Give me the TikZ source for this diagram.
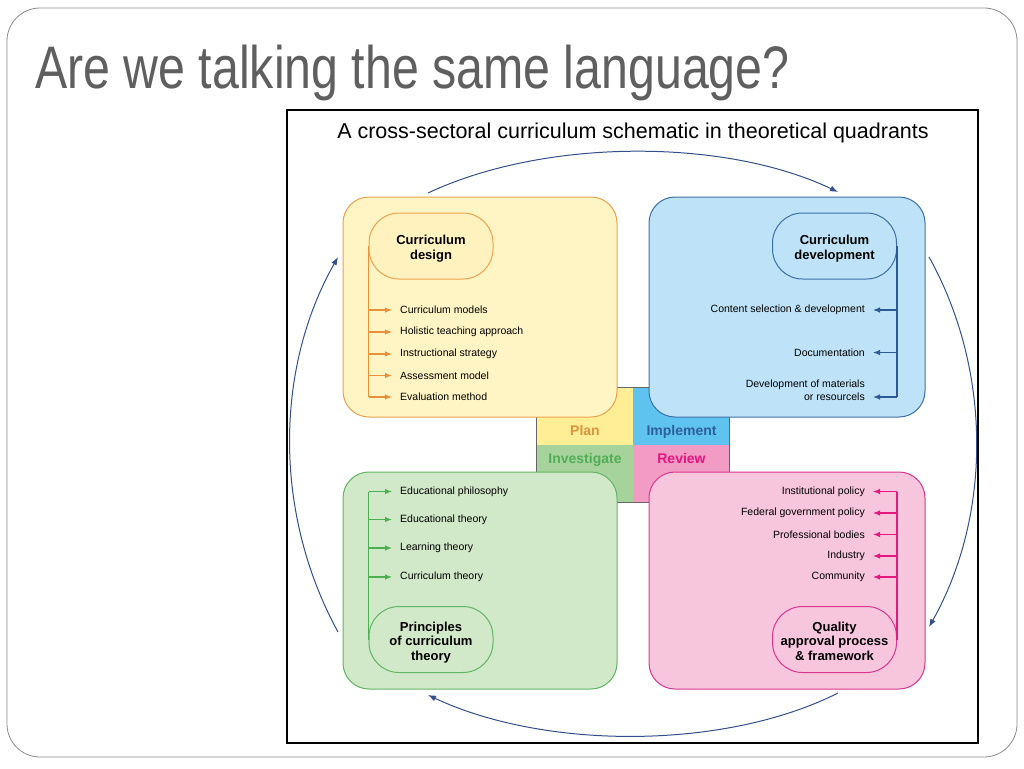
\documentclass[tikz,border=0pt]{standalone}
\usepackage{fontspec}
\usepackage{graphicx}
\setmainfont{Liberation Sans}
\usetikzlibrary{arrows.meta,fit,calc}
\newcommand\mystack[1]{\raisebox{-3.2pt}[\height][\depth]{\begin{tabular}{@{}c@{}}#1\end{tabular}}}
\definecolor{titlegray}{HTML}{5F5F5F}
\definecolor{slideline}{HTML}{8C8C8C}
\definecolor{navy}{HTML}{34508A}
\definecolor{yfill}{HTML}{FFF5C4}
\definecolor{yinfill}{HTML}{FFF2BE}
\definecolor{ydraw}{HTML}{E9A34F}
\definecolor{yarrow}{HTML}{E8913A}
\definecolor{bfill}{HTML}{BEE3F8}
\definecolor{bdraw}{HTML}{3E6FA8}
\definecolor{barrow}{HTML}{2D5A96}
\definecolor{gfill}{HTML}{D1E8C9}
\definecolor{gdraw}{HTML}{62B565}
\definecolor{garrow}{HTML}{4CAF50}
\definecolor{pfill}{HTML}{F7C6DD}
\definecolor{pdraw}{HTML}{D9378F}
\definecolor{parrow}{HTML}{E3197F}
\definecolor{qplan}{HTML}{FFEE95}
\definecolor{qimpl}{HTML}{5EC4EF}
\definecolor{qinv}{HTML}{A6D39B}
\definecolor{qrev}{HTML}{F29CC5}
\definecolor{tplan}{HTML}{D9963F}
\definecolor{timpl}{HTML}{2F5E9C}
\definecolor{tinv}{HTML}{52AE56}
\definecolor{trev}{HTML}{E3157F}
\begin{document}
\begin{tikzpicture}[x=1pt,y=-1pt,
  bigbox/.style={rounded corners=26pt, line width=1pt, inner sep=0pt},
  innode/.style={rounded corners=30pt, line width=1pt, minimum width=124pt, minimum height=66pt,
    align=center, inner sep=0pt, font=\fontsize{13}{14.5}\selectfont\bfseries},
  item/.style={font=\fontsize{10.5}{13}\selectfont, inner xsep=8pt, inner ysep=0pt},
  itemL/.style={item, anchor=west},
  itemR/.style={item, anchor=east, align=right},
  feed/.style={line width=1.1pt, -{Latex[length=7pt,width=5.5pt]}},
  trunk/.style={line width=1.1pt},
  cyc/.style={draw=navy, line width=1pt, -{Latex[length=8pt,width=6pt]}},
  quad/.style={inner sep=0pt, minimum width=96pt, minimum height=57.5pt},
  qlabel/.style={font=\fontsize{14}{16}\selectfont\bfseries, inner sep=0pt, text height=10.5pt, text depth=3pt}]
\useasboundingbox (0,0) rectangle (1024,768);
\fill[white] (0,0) rectangle (1024,768);
% slide border
\node[draw=slideline, line width=0.8pt, rounded corners=33pt, minimum width=1010pt, minimum height=749pt, inner sep=0pt] (slide) at (512,382.5) {};
\node[anchor=base west, inner sep=0pt, text=titlegray, font=\fontsize{60}{66}\selectfont] (title) at (35,88) {\scalebox{0.805}[1]{Are we talking the same language?}};
% diagram frame
\node[draw=black, line width=2.5pt, minimum width=691pt, minimum height=633pt, inner sep=0pt] (frame) at (632.5,426.5) {};
\node[font=\fontsize{21.5}{24}\selectfont, inner sep=0pt] (dtitle) at (633,133) {A cross-sectoral curriculum schematic in theoretical quadrants};
% central quadrants
\node[quad, fill=qplan] (plan) at (585,416) {};
\node[quad, fill=qimpl] (impl) at (681,416) {};
\node[quad, fill=qinv] (inv) at (585,473.5) {};
\node[quad, fill=qrev] (rev) at (681,473.5) {};
\node[draw=gray!80!black, line width=0.8pt, fit=(plan)(rev), inner sep=0pt] (quads) {};
\node[qlabel, text=tplan] (lplan) at (585,432) {Plan};
\node[qlabel, text=timpl] (limpl) at (681.5,432) {Implement};
\node[qlabel, text=tinv] (linv) at (585,460) {Investigate};
\node[qlabel, text=trev] (lrev) at (681.5,460) {Review};
% big boxes
\node[bigbox, fill=yfill, draw=ydraw, minimum width=274pt, minimum height=220pt] (ybox) at (480,307) {};
\node[bigbox, fill=bfill, draw=bdraw, minimum width=276pt, minimum height=220pt] (bbox) at (787,307) {};
\node[bigbox, fill=gfill, draw=gdraw, minimum width=274pt, minimum height=217pt] (gbox) at (480,580.5) {};
\node[bigbox, fill=pfill, draw=pdraw, minimum width=276pt, minimum height=217pt] (pbox) at (787,580.5) {};
% inner nodes
\node[innode, fill=yinfill, draw=ydraw] (yin) at (431,246) {\mystack{Curriculum\\design}};
\node[innode, fill=bfill, draw=bdraw] (bin) at (834.5,246) {\mystack{Curriculum\\development}};
\node[innode, fill=gfill, draw=gdraw] (gin) at (431,639.5) {\mystack{Principles\\of curriculum\\theory}};
\node[innode, fill=pfill, draw=pdraw] (pin) at (834.5,639.5) {\mystack{Quality\\approval process\\\& framework}};
% yellow items
\node[itemL] (d1) at (392,310) {Curriculum models};
\node[itemL] (d2) at (392,332) {Holistic teaching approach};
\node[itemL] (d3) at (392,354) {Instructional strategy};
\node[itemL] (d4) at (392,375.5) {Assessment model};
\node[itemL] (d5) at (392,397) {Evaluation method};
\draw[trunk, draw=yarrow] (yin.west) -- (yin.west |- d5);
\foreach \n in {d1,d2,d3,d4,d5} \draw[feed, draw=yarrow, fill=yarrow] (yin.west |- \n) -- (\n.west);
% blue items
\node[itemR] (c1) at (873,310) {Content selection \& development};
\node[itemR] (c2) at (873,352.5) {Documentation};
\node[itemR] (c3) at (873,390.5) {Development of materials\\or resourcels};
\coordinate (c3tip) at ($(c3.east)+(0,6.5)$);
\draw[trunk, draw=barrow] (bin.east) -- (bin.east |- c3tip);
\draw[feed, draw=barrow, fill=barrow] (bin.east |- c1) -- (c1.east);
\draw[feed, draw=barrow, fill=barrow] (bin.east |- c2) -- (c2.east);
\draw[feed, draw=barrow, fill=barrow] (bin.east |- c3tip) -- (c3tip);
% green items
\node[itemL] (e1) at (392,491.5) {Educational philosophy};
\node[itemL] (e2) at (392,519.5) {Educational theory};
\node[itemL] (e3) at (392,548) {Learning theory};
\node[itemL] (e4) at (392,577) {Curriculum theory};
\draw[trunk, draw=garrow] (gin.west) -- (gin.west |- e1);
\foreach \n in {e1,e2,e3,e4} \draw[feed, draw=garrow, fill=garrow] (gin.west |- \n) -- (\n.west);
% pink items
\node[itemR] (q1) at (873,491.5) {Institutional policy};
\node[itemR] (q2) at (873,513) {Federal government policy};
\node[itemR] (q3) at (873,534.5) {Professional bodies};
\node[itemR] (q4) at (873,556) {Industry};
\node[itemR] (q5) at (873,577) {Community};
\draw[trunk, draw=parrow] (pin.east) -- (pin.east |- q1);
\foreach \n in {q1,q2,q3,q4,q5} \draw[feed, draw=parrow, fill=parrow] (pin.east |- \n) -- (\n.east);
% cycle arrows
\coordinate (ta) at (428,193);
\coordinate (tb) at (838,192);
\coordinate (ra) at (929,257);
\coordinate (rb) at (929,627);
\coordinate (ba) at (838,693);
\coordinate (bb) at (428,695);
\coordinate (la) at (338,632);
\coordinate (lb) at (338,257);
\draw[cyc] (ta) .. controls (545,138) and (725,138) .. (tb);
\draw[cyc] (ra) .. controls (992,370) and (992,515) .. (rb);
\draw[cyc] (ba) .. controls (725,750) and (545,750) .. (bb);
\draw[cyc] (la) .. controls (274,515) and (274,370) .. (lb);
\end{tikzpicture}
\end{document}
